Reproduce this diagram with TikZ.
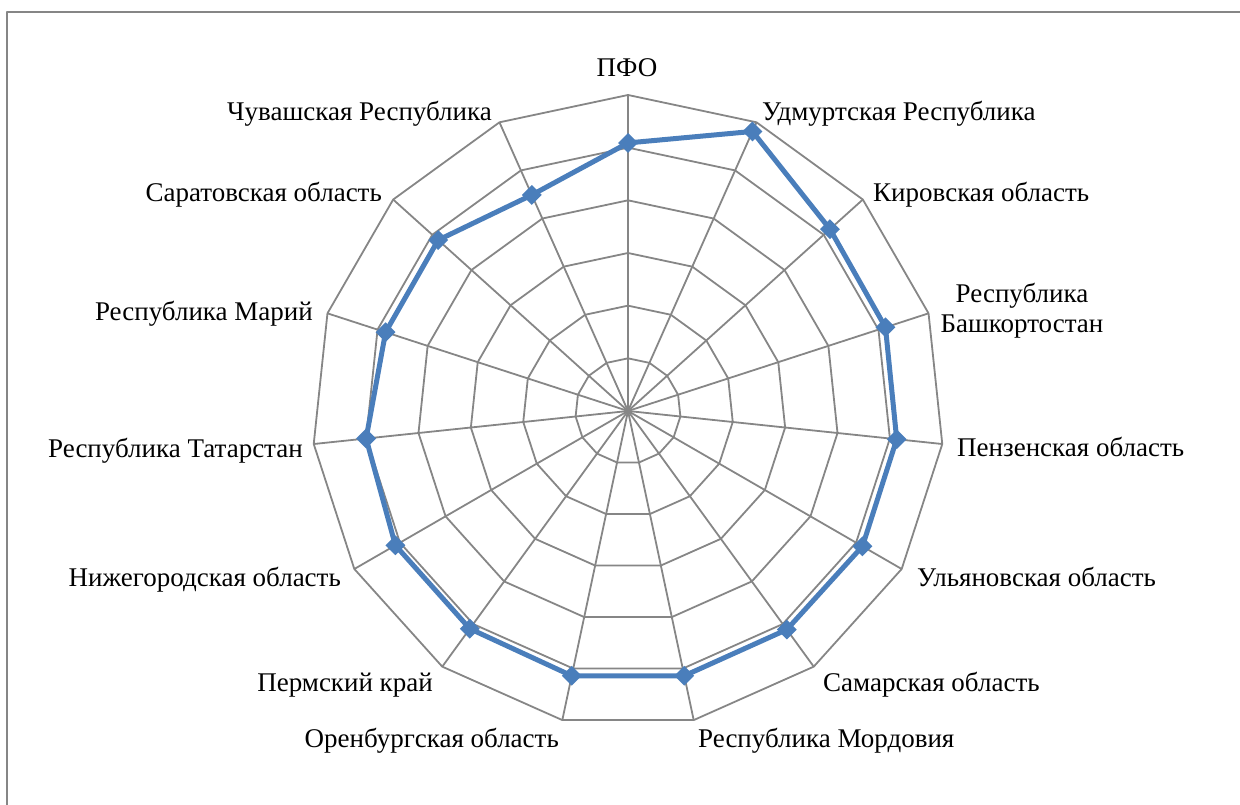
\documentclass[tikz,border=0pt]{standalone}
\usepackage{fontspec}
\setmainfont{Liberation Serif}
\usetikzlibrary{shapes.geometric}
\definecolor{gridgray}{HTML}{868686}
\definecolor{serblue}{HTML}{4A7EBB}
\begin{document}
\begin{tikzpicture}[x=1pt,y=1pt,
  grid/.style={draw=gridgray, line width=1.8pt, line join=round},
  serie/.style={draw=serblue, line width=5pt, line join=round},
  mk/.style={diamond, fill=serblue, inner sep=0pt, minimum width=20pt, minimum height=20pt},
  lbl/.style={font=\fontsize{27}{30}\selectfont, inner sep=0pt, text=black}]
\useasboundingbox (0,0) rectangle (1240,805);
\draw[grid] (7,0) -- (7,793) -- (1240,793);
\coordinate (C) at (628,394);
\def\u{52.667}
% grid rings
\foreach \r in {1,...,6}{
  \draw[grid] ([shift={(C)}]90:\r*\u)
    \foreach \k in {1,...,14}{ -- ([shift={(C)}]{90-24*\k}:\r*\u) } -- cycle;
}
% axes
\foreach \k in {0,...,14}{
  \coordinate (A\k) at ([shift={(C)}]{90-24*\k}:6*\u);
  \draw[grid] (C) -- (A\k);
}
% data
\foreach \k/\v in {0/5.09,1/5.81,2/5.16,3/5.14,4/5.13,5/5.14,6/5.13,7/5.14,8/5.14,9/5.11,10/5.10,11/5.00,12/4.84,13/4.85,14/4.49}{
  \coordinate (P\k) at ([shift={(C)}]{90-24*\k}:\v*\u);
}
\draw[serie] (P0) -- (P1) -- (P2) -- (P3) -- (P4) -- (P5) -- (P6) -- (P7) -- (P8) -- (P9) -- (P10) -- (P11) -- (P12) -- (P13) -- (P14) -- cycle;
\foreach \k in {0,...,14}{ \node[mk] (M\k) at (P\k) {}; }
% labels
\node[lbl, anchor=base] (L0) at (627,728) {ПФО};
\node[lbl, anchor=base west] (L1) at (762,684) {Удмуртская Республика};
\node[lbl, anchor=base west] (L2) at (873,603) {Кировская область};
\node[lbl, anchor=base] (L3a) at (1022,502) {Республика};
\node[lbl, anchor=base] (L3b) at (1022,472) {Башкортостан};
\node[lbl, anchor=base west] (L4) at (957,348) {Пензенская область};
\node[lbl, anchor=base west] (L5) at (917,218) {Ульяновская область};
\node[lbl, anchor=base west] (L6) at (823,113) {Самарская область};
\node[lbl, anchor=base west] (L7) at (698,57) {Республика Мордовия};
\node[lbl, anchor=base east] (L8) at (559,57) {Оренбургская область};
\node[lbl, anchor=base east] (L9) at (433,113) {Пермский край};
\node[lbl, anchor=base east] (L10) at (341,218) {Нижегородская область};
\node[lbl, anchor=base east] (L11) at (303,347) {Республика Татарстан};
\node[lbl, anchor=base east] (L12) at (313,484) {Республика Марий};
\node[lbl, anchor=base east] (L13) at (382,603) {Саратовская область};
\node[lbl, anchor=base east] (L14) at (492,684) {Чувашская Республика};
\end{tikzpicture}
\end{document}
